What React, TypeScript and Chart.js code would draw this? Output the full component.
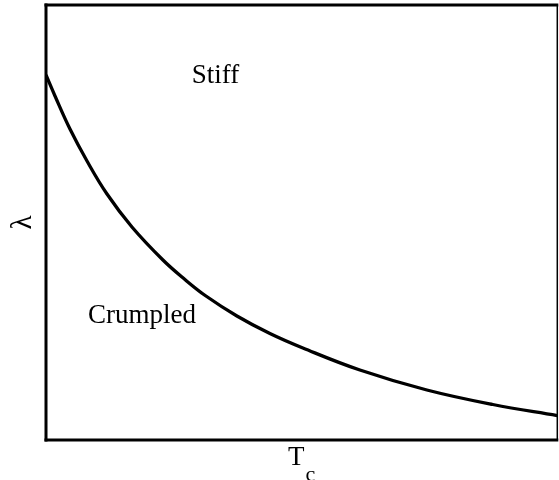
import React, { useEffect, useRef } from "react";
import { Chart, registerables } from "chart.js";

Chart.register(...registerables);

// Phase boundary lambda(Tc) (normalised units)
const tcValues = [
  0, 0.0176, 0.0469, 0.0802, 0.1193, 0.1681, 0.2287, 0.2717, 0.3128, 0.3734, 0.4379, 0.5024,
  0.6139, 0.7449, 0.8739, 1.0,
];
const lambdaValues = [
  0.8391, 0.7908, 0.7149, 0.6414, 0.5655, 0.4897, 0.4138, 0.369, 0.331, 0.2851, 0.2448, 0.2115,
  0.1609, 0.1149, 0.0816, 0.0563,
];

const regionLabels = ["Stiff", "Crumpled"];
const regionLabelX = [0.285, 0.082];
const regionLabelY = [0.821, 0.269];

const xTitle = "T";
const xTitleSub = "c";
const yTitle = "λ";

const FONT = '"Liberation Serif", "Times New Roman", serif';

const framePlugin = {
  id: "frameAndLabels",
  afterDraw(chart: any) {
    const { ctx, chartArea } = chart;
    const { left, right, top, bottom } = chartArea;
    const xs = chart.scales.x;
    const ys = chart.scales.y;
    ctx.save();
    ctx.strokeStyle = "#000";
    ctx.lineCap = "butt";
    // left
    ctx.lineWidth = 3;
    ctx.beginPath();
    ctx.moveTo(left, top - 1.5);
    ctx.lineTo(left, bottom + 1.5);
    ctx.stroke();
    // bottom
    ctx.beginPath();
    ctx.moveTo(left - 1.5, bottom);
    ctx.lineTo(right + 1, bottom);
    ctx.stroke();
    // top
    ctx.beginPath();
    ctx.moveTo(left - 1.5, top);
    ctx.lineTo(right + 1, top);
    ctx.stroke();
    // right (thin)
    ctx.lineWidth = 1.5;
    ctx.beginPath();
    ctx.moveTo(right, top);
    ctx.lineTo(right, bottom);
    ctx.stroke();

    // region labels
    ctx.fillStyle = "#000";
    ctx.font = `27px ${FONT}`;
    ctx.textAlign = "left";
    ctx.textBaseline = "alphabetic";
    regionLabels.forEach((t, i) => {
      ctx.fillText(t, xs.getPixelForValue(regionLabelX[i]), ys.getPixelForValue(regionLabelY[i]));
    });

    // x title with subscript
    const cx = (left + right) / 2;
    ctx.font = `27px ${FONT}`;
    const tw = ctx.measureText(xTitle).width;
    ctx.font = `22px ${FONT}`;
    const sw = ctx.measureText(xTitleSub).width;
    const total = tw + 1 + sw;
    const x0 = cx - total / 2;
    ctx.font = `27px ${FONT}`;
    ctx.fillText(xTitle, x0, bottom + 25);
    ctx.font = `22px ${FONT}`;
    ctx.fillText(xTitleSub, x0 + tw + 1, bottom + 41);

    // y title rotated
    ctx.translate(left - 23, (top + bottom) / 2);
    ctx.rotate(-Math.PI / 2);
    ctx.font = `29px ${FONT}`;
    ctx.textAlign = "center";
    ctx.textBaseline = "middle";
    ctx.fillText(yTitle, 0, 0);
    ctx.restore();
  },
};

export default function App() {
  const ref = useRef<HTMLCanvasElement>(null);
  useEffect(() => {
    document.body.style.margin = "0";
    const chart = new Chart(ref.current!, {
      type: "line",
      data: {
        datasets: [
          {
            data: tcValues.map((x, i) => ({ x, y: lambdaValues[i] })),
            borderColor: "#000",
            borderWidth: 3.3,
            pointRadius: 0,
            tension: 0.4,
            fill: false,
          },
        ],
      },
      options: {
        responsive: false,
        animation: false,
        events: [],
        layout: { padding: { left: 46, right: 1.7, top: 5, bottom: 40 } },
        plugins: { legend: { display: false }, tooltip: { enabled: false } },
        scales: {
          x: { type: "linear", min: 0, max: 1, display: false },
          y: { type: "linear", min: 0, max: 1, display: false },
        },
      },
      plugins: [framePlugin],
    });
    return () => chart.destroy();
  }, []);
  return (
    <div style={{ position: "fixed", left: 0, top: 0, width: 559, height: 480, background: "#fff" }}>
      <canvas ref={ref} width={559} height={480} />
    </div>
  );
}
